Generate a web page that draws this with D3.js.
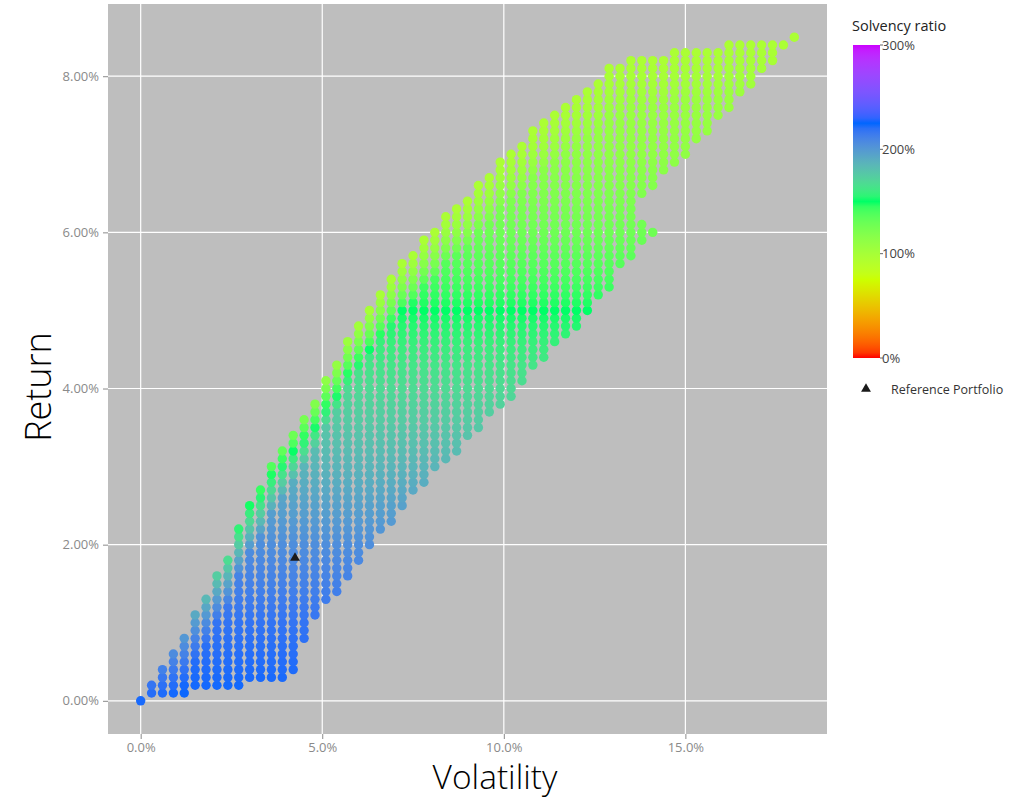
<!DOCTYPE html>
<html>
<head>
<meta charset="utf-8">
<script src="https://cdn.jsdelivr.net/npm/d3@7"></script>
<style>
	body { margin: 0; background: #ffffff; }
	#chart_div { width: 1033px; height: 798px; }
	text { font-family: 'Open Sans', 'Noto Sans', sans-serif; }
</style>
</head>
<body>
<div id="chart_div"></div>
<script>
// one column of portfolios per volatility step, returns on a 0.1% grid
var volatility = [
	0.0, 0.3, 0.6, 0.9, 1.2, 1.5, 1.8, 2.1, 2.4, 2.7,
	3.0, 3.3, 3.6, 3.9, 4.2, 4.5, 4.8, 5.1, 5.4, 5.7,
	6.0, 6.3, 6.6, 6.9, 7.2, 7.5, 7.8, 8.1, 8.4, 8.7,
	9.0, 9.3, 9.6, 9.9, 10.2, 10.5, 10.8, 11.1, 11.4, 11.7,
	12.0, 12.3, 12.6, 12.9, 13.2, 13.5, 13.8, 14.1, 14.4, 14.7,
	15.0, 15.3, 15.6, 15.9, 16.2, 16.5, 16.8, 17.1, 17.4, 17.7,
	18.0
];
var return_min = [
	0.0, 0.1, 0.1, 0.1, 0.1, 0.2, 0.2, 0.2, 0.2, 0.2,
	0.3, 0.3, 0.3, 0.3, 0.4, 0.8, 1.1, 1.3, 1.4, 1.6,
	1.8, 2.0, 2.2, 2.3, 2.5, 2.7, 2.8, 3.0, 3.1, 3.2,
	3.4, 3.5, 3.7, 3.8, 3.9, 4.1, 4.3, 4.4, 4.6, 4.7,
	4.8, 5.0, 5.2, 5.3, 5.6, 5.7, 5.9, 6.0, 6.8, 6.9,
	7.0, 7.2, 7.3, 7.5, 7.6, 7.8, 7.9, 8.1, 8.2, 8.4,
	8.5
];
var return_max = [
	0.0, 0.2, 0.4, 0.6, 0.8, 1.1, 1.3, 1.6, 1.8, 2.2,
	2.5, 2.7, 3.0, 3.2, 3.4, 3.6, 3.8, 4.1, 4.3, 4.6,
	4.8, 5.0, 5.2, 5.4, 5.6, 5.7, 5.9, 6.0, 6.2, 6.3,
	6.4, 6.6, 6.7, 6.9, 7.0, 7.1, 7.3, 7.4, 7.5, 7.6,
	7.7, 7.8, 7.9, 8.1, 8.1, 8.2, 8.2, 8.2, 8.2, 8.3,
	8.3, 8.3, 8.3, 8.3, 8.4, 8.4, 8.4, 8.4, 8.4, 8.4,
	8.5
];
// the notch on the right edge
var gap_volatility = [13.8, 14.1];
var gap_from = [6.2, 6.1];
var gap_to = [6.4, 6.5];

// solvency ratio (%) by return level, inside the cloud and on its upper edge
var solvency_returns = [0, 1, 2, 3, 4, 5, 6, 7, 8, 8.5];
var solvency_inner = [225, 218, 205, 186, 168, 150, 128, 112, 104, 101];
var solvency_edge = [223, 195, 160, 138, 115, 100, 97, 97, 97, 97];

var reference_volatility = [4.25];
var reference_return = [1.83];

var x_ticks = [0, 5, 10, 15];
var y_ticks = [0, 2, 4, 6, 8];
var legend_ticks = [0, 100, 200, 300];
var colour_stops = [0, 75, 150, 225, 300];
var colour_values = ['#FF0000', '#CCFF00', '#00FF66', '#0066FF', '#CC00FF'];

var chart = {
	left: 108,
	right: 827,
	top: 4,
	bottom: 734,
	radius: 4.7,
	edge_rows: 6
};

function draw_svg(div_id) {
	var chart_div = document.getElementById(div_id);
	var svg = d3
		.select('#' + div_id)
		.append('svg')
		.attr('width', chart_div.clientWidth)
		.attr('height', chart_div.clientHeight);
	return svg;
}

function build_points() {
	var points = [];
	volatility.forEach(function (v, i) {
		var lo = Math.round(return_min[i] * 10);
		var hi = Math.round(return_max[i] * 10);
		var g = gap_volatility.indexOf(v);
		for (var k = lo; k <= hi; k++) {
			if (g > -1 && k >= Math.round(gap_from[g] * 10) && k <= Math.round(gap_to[g] * 10)) {
				continue;
			}
			points.push({ volatility: v, ret: k / 10, depth: hi - k });
		}
	});
	return points;
}

function draw_chart(svg) {
	var x_max = d3.max(volatility);
	var y_max = d3.max(return_max);
	var x = d3
		.scaleLinear()
		.domain([-x_max * 0.05, x_max * 1.05])
		.range([chart.left, chart.right]);
	var y = d3
		.scaleLinear()
		.domain([-y_max * 0.05, y_max * 1.05])
		.range([chart.bottom, chart.top]);

	var colour = d3
		.scaleLinear()
		.domain(colour_stops)
		.range(colour_values)
		.interpolate(d3.interpolateLab)
		.clamp(true);
	var inner = d3.scaleLinear().domain(solvency_returns).range(solvency_inner);
	var edge = d3.scaleLinear().domain(solvency_returns).range(solvency_edge);

	svg.append('rect')
		.attr('x', chart.left)
		.attr('y', chart.top)
		.attr('width', chart.right - chart.left)
		.attr('height', chart.bottom - chart.top)
		.attr('fill', '#bebebe');

	svg.selectAll('.x_grid')
		.data(x_ticks)
		.enter()
		.append('line')
		.attr('class', 'x_grid')
		.attr('x1', (d) => x(d))
		.attr('x2', (d) => x(d))
		.attr('y1', chart.top)
		.attr('y2', chart.bottom)
		.attr('stroke', '#ffffff')
		.attr('stroke-width', 1.2);

	svg.selectAll('.y_grid')
		.data(y_ticks)
		.enter()
		.append('line')
		.attr('class', 'y_grid')
		.attr('x1', chart.left)
		.attr('x2', chart.right)
		.attr('y1', (d) => y(d))
		.attr('y2', (d) => y(d))
		.attr('stroke', '#ffffff')
		.attr('stroke-width', 1.2);

	var x_axis = d3
		.axisBottom(x)
		.tickValues(x_ticks)
		.tickSize(5)
		.tickPadding(4)
		.tickFormat((d) => d3.format('.1f')(d) + '%');
	var y_axis = d3
		.axisLeft(y)
		.tickValues(y_ticks)
		.tickSize(5)
		.tickPadding(4)
		.tickFormat((d) => d3.format('.2f')(d) + '%');

	var gx = svg.append('g')
		.attr('transform', 'translate(0,' + chart.bottom + ')')
		.call(x_axis);
	var gy = svg.append('g')
		.attr('transform', 'translate(' + chart.left + ',0)')
		.call(y_axis);
	[gx, gy].forEach(function (g) {
		g.select('.domain').remove();
		g.selectAll('line').attr('stroke', '#8a8a8a');
		g.selectAll('text')
			.attr('fill', '#8a8a8a')
			.style('font-family', "'Open Sans', sans-serif")
			.style('font-size', '13px');
	});

	var points = build_points();
	svg.append('g')
		.selectAll('circle')
		.data(points)
		.enter()
		.append('circle')
		.attr('cx', (d) => x(d.volatility))
		.attr('cy', (d) => y(d.ret))
		.attr('r', chart.radius)
		.attr('fill', function (d) {
			var w = Math.min(d.depth / chart.edge_rows, 1);
			var s = edge(d.ret) + (inner(d.ret) - edge(d.ret)) * w;
			return colour(s);
		});

	svg.append('g')
		.selectAll('path')
		.data(reference_volatility)
		.enter()
		.append('path')
		.attr('d', d3.symbol(d3.symbolTriangle, 42))
		.attr('transform', (d, i) => 'translate(' + x(d) + ',' + y(reference_return[i]) + ')')
		.attr('fill', '#1a1a1a');

	svg.append('text')
		.attr('transform', 'translate(51,387) rotate(-90)')
		.attr('text-anchor', 'middle')
		.attr('font-size', 36)
		.attr('font-weight', 300)
		.attr('fill', '#000000')
		.text('Return');

	svg.append('text')
		.attr('x', 495)
		.attr('y', 789)
		.attr('text-anchor', 'middle')
		.attr('font-size', 33.5)
		.attr('font-weight', 300)
		.attr('fill', '#000000')
		.text('Volatility');

	draw_legend(svg, colour);
}

function draw_legend(svg, colour) {
	var bar_x = 853;
	var bar_width = 27;
	var ly = d3.scaleLinear().domain([0, 300]).range([358, 45]);

	var defs = svg.append('defs');
	var gradient = defs
		.append('linearGradient')
		.attr('id', 'solvency-gradient')
		.attr('x1', '0%')
		.attr('y1', '100%')
		.attr('x2', '0%')
		.attr('y2', '0%');
	gradient
		.selectAll('stop')
		.data(d3.range(0, 301, 5))
		.enter()
		.append('stop')
		.attr('offset', (d) => d / 300)
		.attr('stop-color', (d) => colour(d));

	svg.append('text')
		.attr('x', 852)
		.attr('y', 31)
		.attr('font-size', 14.5)
		.attr('fill', '#222222')
		.text('Solvency ratio');

	svg.append('rect')
		.attr('x', bar_x)
		.attr('y', ly(300))
		.attr('width', bar_width)
		.attr('height', ly(0) - ly(300))
		.attr('fill', 'url(#solvency-gradient)');

	svg.selectAll('.legend_tick')
		.data(legend_ticks)
		.enter()
		.append('line')
		.attr('class', 'legend_tick')
		.attr('x1', bar_x + bar_width)
		.attr('x2', bar_x + bar_width + 3)
		.attr('y1', (d) => ly(d))
		.attr('y2', (d) => ly(d))
		.attr('stroke', '#666666');

	svg.selectAll('.legend_label')
		.data(legend_ticks)
		.enter()
		.append('text')
		.attr('class', 'legend_label')
		.attr('x', bar_x + bar_width + 2)
		.attr('y', (d) => ly(d))
		.attr('dy', '0.35em')
		.attr('font-size', 13)
		.attr('fill', '#444444')
		.text((d) => d + '%');

	svg.append('path')
		.attr('d', d3.symbol(d3.symbolTriangle, 42))
		.attr('transform', 'translate(866,389)')
		.attr('fill', '#1a1a1a');

	svg.append('text')
		.attr('x', 891)
		.attr('y', 390)
		.attr('dy', '0.35em')
		.attr('font-size', 12.5)
		.attr('fill', '#333333')
		.text('Reference Portfolio');
}

var svg = draw_svg('chart_div');
draw_chart(svg);
</script>
</body>
</html>
